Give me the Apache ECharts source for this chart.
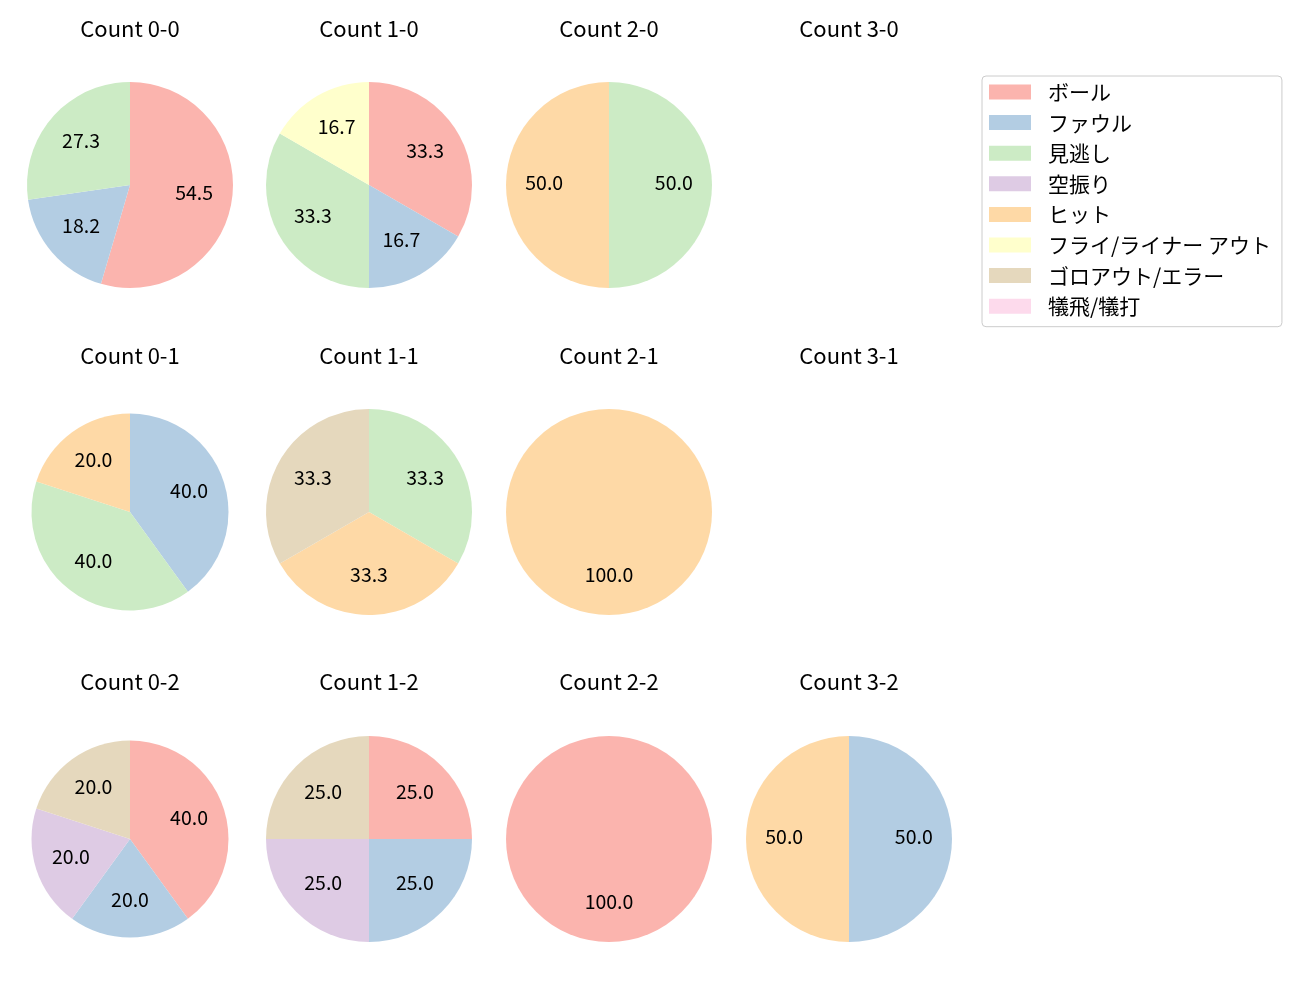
<!DOCTYPE html>
<html>
<head>
<meta charset="utf-8">
<script src="https://cdn.jsdelivr.net/npm/echarts@6/dist/echarts.min.js"></script>
<style>
  html, body { margin: 0; padding: 0; background: #fff; }
  #chart { width: 1300px; height: 1000px; }
</style>
</head>
<body>
<div id="chart"></div>
<script>
  var categories = ['ボール', 'ファウル', '見逃し', '空振り', 'ヒット', 'フライ/ライナー アウト', 'ゴロアウト/エラー', '犠飛/犠打'];
  var colors = ['#fbb4ae', '#b3cde3', '#ccebc5', '#decbe4', '#fed9a6', '#ffffcc', '#e5d8bd', '#fddaec'];

  // 各カウントの結果数（categories の順）
  var countNames = ['0-0', '1-0', '2-0', '3-0', '0-1', '1-1', '2-1', '3-1', '0-2', '1-2', '2-2', '3-2'];
  var count00 = [6, 2, 3, 0, 0, 0, 0, 0];
  var count10 = [2, 1, 2, 0, 0, 1, 0, 0];
  var count20 = [0, 0, 1, 0, 1, 0, 0, 0];
  var count30 = [0, 0, 0, 0, 0, 0, 0, 0];
  var count01 = [0, 2, 2, 0, 1, 0, 0, 0];
  var count11 = [0, 0, 1, 0, 1, 0, 1, 0];
  var count21 = [0, 0, 0, 0, 1, 0, 0, 0];
  var count31 = [0, 0, 0, 0, 0, 0, 0, 0];
  var count02 = [2, 1, 0, 1, 0, 0, 1, 0];
  var count12 = [1, 1, 0, 1, 0, 0, 1, 0];
  var count22 = [1, 0, 0, 0, 0, 0, 0, 0];
  var count32 = [0, 1, 0, 0, 1, 0, 0, 0];
  var countValues = [count00, count10, count20, count30, count01, count11, count21, count31, count02, count12, count22, count32];

  var colX = [130, 369, 609, 849];
  var rowY = [185, 512, 839];
  var titleY = [28.5, 355.5, 681.5];
  var radii = [103, 103, 103, 103, 98.5, 103, 103, 103, 98.5, 103, 103, 103];
  var font = '"Noto Sans CJK JP", "Noto Sans", sans-serif';

  var chart = echarts.init(document.getElementById('chart'));

  var series = [];
  var graphics = [];

  // 凡例用のダミー（全カテゴリ）
  series.push({
    type: 'pie',
    radius: 0,
    center: [-100, -100],
    silent: true,
    label: { show: false },
    labelLine: { show: false },
    data: categories.map(function (c, i) {
      return { name: c, value: 1, itemStyle: { color: colors[i] } };
    })
  });

  countNames.forEach(function (cn, k) {
    var row = Math.floor(k / 4), col = k % 4;
    var vals = countValues[k];
    var total = vals.reduce(function (a, b) { return a + b; }, 0);
    var cx = colX[col], cy = rowY[row], r = radii[k];

    graphics.push({
      type: 'text',
      x: cx,
      y: titleY[row],
      style: {
        text: 'Count ' + cn,
        fontSize: 22,
        fontFamily: font,
        fill: '#000',
        align: 'center',
        verticalAlign: 'middle'
      }
    });

    if (total === 0) return;

    var data = [];
    vals.forEach(function (v, i) {
      if (v > 0) data.push({ name: categories[i], value: v, itemStyle: { color: colors[i] } });
    });

    series.push({
      type: 'pie',
      center: [cx, cy],
      radius: [0, r],
      startAngle: 90,
      clockwise: true,
      silent: true,
      animation: false,
      label: { show: false },
      labelLine: { show: false },
      data: data
    });

    // ラベルは半径の0.6の位置に
    series.push({
      type: 'pie',
      center: [cx, cy],
      radius: [r * 0.2, r],
      startAngle: 90,
      clockwise: true,
      silent: true,
      animation: false,
      itemStyle: { color: 'rgba(0,0,0,0)' },
      label: {
        show: true,
        position: 'inside',
        fontSize: 19.5,
        fontFamily: font,
        color: '#000',
        offset: [0, -2],
        formatter: function (p) {
          return (p.value / total * 100).toFixed(1);
        }
      },
      labelLine: { show: false },
      data: data.map(function (d) { return { name: d.name, value: d.value }; })
    });
  });

  chart.setOption({
    backgroundColor: '#fff',
    animation: false,
    legend: {
      orient: 'vertical',
      left: 982,
      top: 76,
      padding: [5.5, 11, 10, 7],
      itemWidth: 42,
      itemHeight: 15,
      itemGap: 9.6,
      icon: 'rect',
      selectedMode: false,
      backgroundColor: '#fff',
      borderColor: '#cccccc',
      borderWidth: 1,
      borderRadius: 4,
      textStyle: {
        fontSize: 21,
        fontFamily: font,
        color: '#000',
        padding: [0, 0, 0, 12]
      },
      data: categories
    },
    graphic: graphics,
    series: series
  });
</script>
</body>
</html>
